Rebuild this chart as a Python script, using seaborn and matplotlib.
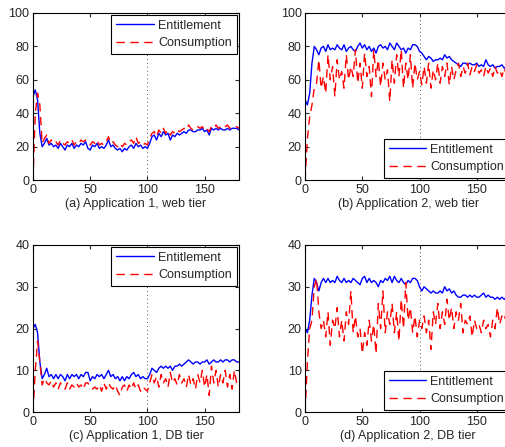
import numpy as np
import pandas as pd
import matplotlib
matplotlib.use('Agg')
import matplotlib.pyplot as plt
import seaborn as sns

# time axis (sampled every 2 intervals)
t = np.arange(0, 181, 2)

# (a) Application 1, web tier
app1_web_ent = [50, 54, 48, 28, 20, 22, 25, 21, 22, 20,
                21, 19, 22, 20, 18, 21, 20, 22, 19, 21,
                20, 22, 21, 23, 19, 18, 21, 20, 22, 19,
                20, 19, 21, 24, 20, 21, 19, 18, 19, 17,
                19, 18, 20, 21, 19, 22, 20, 21, 19, 20,
                19, 22, 26, 27, 24, 28, 26, 29, 27, 28,
                24, 27, 26, 28, 27, 28, 29, 28, 30, 30,
                29, 29, 30, 30, 31, 29, 30, 27, 31, 30,
                31, 30, 31, 30, 30, 31, 30, 31, 31, 31,
                30]
app1_web_con = [0, 40, 52, 45, 22, 25, 27, 22, 24, 22,
                23, 21, 24, 22, 21, 23, 22, 24, 21, 23,
                22, 24, 23, 24, 22, 21, 23, 22, 24, 21,
                22, 21, 23, 26, 22, 23, 21, 20, 22, 20,
                22, 21, 23, 24, 22, 26, 22, 23, 21, 22,
                21, 25, 28, 29, 26, 30, 28, 31, 28, 30,
                27, 29, 28, 30, 29, 30, 31, 30, 33, 31,
                30, 31, 32, 31, 32, 30, 31, 29, 32, 31,
                33, 31, 32, 31, 32, 33, 31, 32, 32, 32,
                31]

# (b) Application 2, web tier
app2_web_ent = [48, 45, 52, 70, 80, 78, 75, 79, 80, 77,
                81, 78, 79, 78, 81, 79, 78, 81, 77, 79,
                80, 78, 77, 80, 82, 79, 81, 78, 80, 77,
                79, 76, 80, 81, 79, 80, 78, 82, 80, 78,
                82, 80, 78, 79, 76, 79, 78, 81, 81, 80,
                77, 76, 74, 72, 74, 73, 71, 72, 72, 73,
                72, 75, 73, 74, 72, 71, 70, 69, 68, 70,
                70, 69, 70, 69, 69, 70, 68, 69, 68, 72,
                69, 68, 69, 67, 68, 68, 69, 67, 68, 67,
                67]
app2_web_con = [0, 25, 38, 45, 55, 58, 72, 55, 62, 52,
                75, 60, 68, 50, 72, 60, 65, 55, 75, 60,
                68, 62, 78, 58, 70, 55, 76, 62, 68, 50,
                78, 62, 72, 56, 70, 60, 66, 47, 72, 58,
                75, 62, 78, 55, 70, 60, 75, 55, 70, 60,
                65, 57, 68, 58, 70, 55, 66, 60, 70, 58,
                68, 62, 70, 57, 68, 60, 66, 70, 62, 68,
                64, 70, 63, 68, 65, 69, 64, 66, 62, 68,
                64, 67, 62, 68, 64, 66, 62, 67, 63, 66,
                60]

# (c) Application 1, DB tier
app1_db_ent = [20, 21, 19, 12, 8, 9, 10.5, 8.5, 9, 8,
               9, 8, 9, 8.5, 7.5, 9, 8, 9, 8.5, 9,
               8, 9, 8.5, 9.5, 9.5, 7.5, 8.5, 8, 9, 8.5,
               9, 8, 9, 10, 8.5, 9, 8, 8.5, 7.5, 8.5,
               7.5, 8.5, 8, 9, 9.5, 8.5, 9, 8, 8.5, 8,
               8, 9, 10.5, 10, 9.5, 10.5, 11, 10.5, 11, 10.5,
               11, 10, 11, 11, 11.5, 11, 11.5, 12, 12.5, 12,
               11.5, 12, 12, 11.5, 12, 12, 12.5, 11.5, 12, 12.5,
               12, 12, 12.5, 12, 12.5, 12.5, 12, 12.5, 12.5, 12,
               12]
app1_db_con = [0, 10, 17, 12, 6.5, 8, 7, 6.5, 7.5, 6,
               7, 5.5, 7, 6, 5.5, 7, 5.5, 6.5, 6, 7,
               6, 6.5, 5.5, 7, 7, 6, 5.5, 6, 5.5, 6.5,
               5, 7, 5.5, 7, 6, 5.5, 6.5, 5, 4, 6,
               6.5, 5, 6.5, 5.5, 7, 5.5, 6.5, 5, 6, 5.5,
               5, 7, 9, 7, 8.5, 6, 9, 7, 8, 6,
               9.5, 7, 8, 6.5, 9, 7, 8, 6, 9, 6.5,
               8, 5.5, 9, 7, 10, 6, 9, 4, 11, 7,
               10, 6, 9, 7, 10, 6, 9, 5.5, 10, 7,
               6]

# (d) Application 2, DB tier
app2_db_ent = [20, 19, 22, 28, 32, 31, 29, 31, 32, 31,
               32, 31, 31.5, 31, 32.5, 31.5, 31, 32, 31, 31.5,
               31, 32, 31.5, 31, 30.5, 32, 32.5, 31, 32, 31,
               31.5, 31, 30, 31.5, 31, 32, 31.5, 32.5, 31, 32.5,
               31.5, 31, 32, 31, 30.5, 31.5, 31, 32, 32, 31.5,
               30, 29, 30, 29.5, 29, 28.5, 29, 28.5, 28.5, 29,
               28.5, 30, 29, 29.5, 28.5, 29, 28, 27.5, 27.5, 28,
               28, 27.5, 28, 27.5, 28, 27.5, 27.5, 28, 28.5, 27.5,
               28, 27.5, 27.5, 27, 27.5, 27, 27.5, 27, 27.5, 27,
               27]
app2_db_con = [0, 12, 20, 22, 30, 32, 24, 20, 22, 18,
               24, 16, 22, 20, 25, 18, 22, 17, 24, 21,
               29, 19, 23, 18, 20, 14, 19, 16, 22, 17,
               21, 14, 26, 20, 29, 19, 24, 21, 26, 19,
               24, 17, 27, 20, 31, 22, 25, 19, 23, 18,
               22, 20, 23, 19, 22, 15, 24, 21, 26, 20,
               24, 21, 27, 22, 25, 20, 24, 22, 26, 19,
               22, 21, 23, 18, 22, 20, 21, 19, 22, 20,
               21, 18, 22, 20, 25, 21, 23, 22, 24, 21,
               22]

panels = [
    (app1_web_ent, app1_web_con, 100, [0, 20, 40, 60, 80, 100], '(a) Application 1, web tier', 'upper right'),
    (app2_web_ent, app2_web_con, 100, [0, 20, 40, 60, 80, 100], '(b) Application 2, web tier', 'lower right'),
    (app1_db_ent, app1_db_con, 40, [0, 10, 20, 30, 40], '(c) Application 1, DB tier', 'upper right'),
    (app2_db_ent, app2_db_con, 40, [0, 10, 20, 30, 40], '(d) Application 2, DB tier', 'lower right'),
]

sns.set_style('ticks')
plt.rcParams['font.family'] = ['Liberation Sans', 'DejaVu Sans']
plt.rcParams['font.size'] = 9
plt.rcParams['xtick.direction'] = 'in'
plt.rcParams['ytick.direction'] = 'in'
plt.rcParams['xtick.top'] = True
plt.rcParams['ytick.right'] = True
plt.rcParams['xtick.major.size'] = 3
plt.rcParams['ytick.major.size'] = 3
plt.rcParams['xtick.major.pad'] = 2.5
plt.rcParams['ytick.major.pad'] = 2.5

fig = plt.figure(figsize=(5.06, 4.47), dpi=100)
positions = [
    [0.0652, 0.597, 0.407, 0.374],
    [0.603, 0.597, 0.407, 0.374],
    [0.0652, 0.078, 0.407, 0.374],
    [0.603, 0.078, 0.407, 0.374],
]

for pos, (ent, con, ymax, yt, label, loc) in zip(positions, panels):
    ax = fig.add_axes(pos)
    df = pd.DataFrame({'t': t, 'ent': ent, 'con': con})
    ax.axvline(100, color='#555555', linestyle=(0, (1, 3)), linewidth=0.7, zorder=1)
    sns.lineplot(data=df, x='t', y='ent', color='blue', linewidth=1.0, label='Entitlement', ax=ax)
    sns.lineplot(data=df, x='t', y='con', color='red', linewidth=1.0,
                 linestyle=(0, (6, 4)), label='Consumption', ax=ax)
    ax.set_xlim(0, 180)
    ax.set_ylim(0, ymax)
    ax.set_xticks([0, 50, 100, 150])
    ax.set_yticks(yt)
    ax.set_xlabel(label, labelpad=1.5)
    ax.set_ylabel('')
    for s in ax.spines.values():
        s.set_color('black')
        s.set_linewidth(0.8)
    leg = ax.legend(loc=loc, fancybox=False, framealpha=1, edgecolor='black',
                    borderaxespad=0.15, handlelength=3.0, fontsize=9,
                    borderpad=0.4, labelspacing=0.45, handletextpad=0.35)
    leg.get_frame().set_linewidth(0.8)

fig.savefig('out.png', dpi=100)
